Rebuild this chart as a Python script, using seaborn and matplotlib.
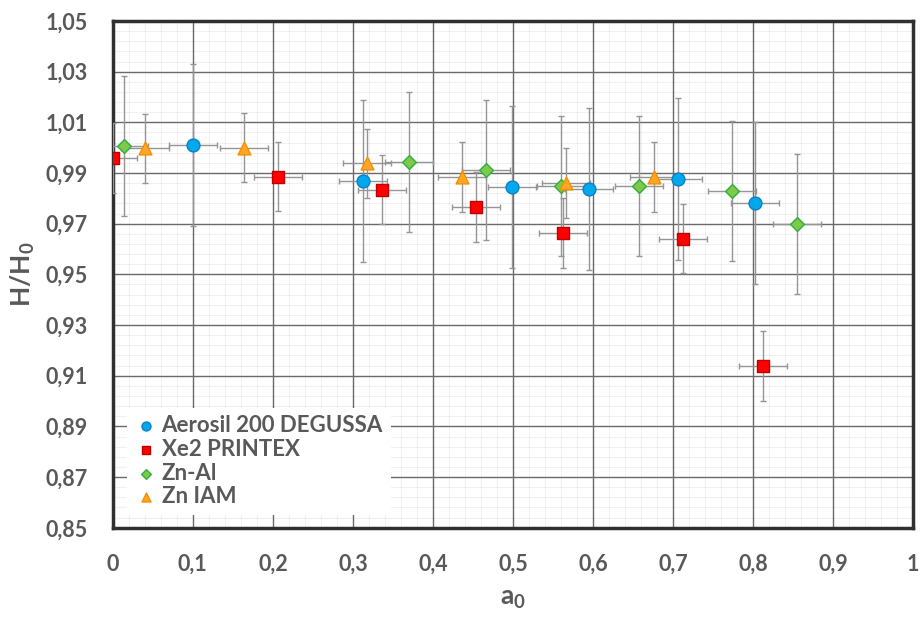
import matplotlib
matplotlib.use("Agg")
import matplotlib.pyplot as plt
from matplotlib.ticker import FixedLocator
import pandas as pd
import seaborn as sns

# values
aerosil_x = [0.100, 0.312, 0.499, 0.595, 0.706, 0.802]
aerosil_y = [1.0011, 0.9870, 0.9846, 0.9836, 0.9877, 0.9782]
aerosil_xerr = 0.03
aerosil_yerr = 0.032

printex_x = [0.000, 0.206, 0.336, 0.454, 0.562, 0.712, 0.812]
printex_y = [0.9960, 0.9886, 0.9834, 0.9766, 0.9664, 0.9641, 0.9138]
printex_xerr = 0.03
printex_yerr = 0.0137

znal_x = [0.0137, 0.3705, 0.4663, 0.560, 0.6578, 0.7731, 0.8551]
znal_y = [1.0005, 0.9943, 0.9913, 0.9849, 0.9847, 0.9830, 0.9699]
znal_xerr = 0.03
znal_yerr = 0.0276

zniam_x = [0.0407, 0.164, 0.3173, 0.4363, 0.5658, 0.6761]
zniam_y = [0.9997, 1.0000, 0.9938, 0.9885, 0.9860, 0.9885]
zniam_xerr = 0.03
zniam_yerr = 0.0137

series_names = ["Aerosil 200 DEGUSSA", "Xe2 PRINTEX", "Zn-Al", "Zn IAM"]

x_ticks = [0, 0.1, 0.2, 0.3, 0.4, 0.5, 0.6, 0.7, 0.8, 0.9, 1.0]
x_tick_labels = ["0", "0,1", "0,2", "0,3", "0,4", "0,5", "0,6", "0,7", "0,8", "0,9", "1"]
y_ticks = [0.85, 0.87, 0.89, 0.91, 0.93, 0.95, 0.97, 0.99, 1.01, 1.03, 1.05]
y_tick_labels = ["0,85", "0,87", "0,89", "0,91", "0,93", "0,95", "0,97", "0,99", "1,01", "1,03", "1,05"]

sns.set_style("white")
plt.rcParams['font.family'] = ['Lato', 'DejaVu Sans']
plt.rcParams['font.weight'] = 'bold'
plt.rcParams['mathtext.fontset'] = 'custom'
plt.rcParams['mathtext.rm'] = 'Lato'
plt.rcParams['mathtext.bf'] = 'Lato:bold'

txt = '#595959'

series = [
    (series_names[0], aerosil_x, aerosil_y, aerosil_xerr, aerosil_yerr, 'o', '#00A8EC', '#0A80C8', 85),
    (series_names[1], printex_x, printex_y, printex_xerr, printex_yerr, 's', '#FF0000', '#C00000', 80),
    (series_names[2], znal_x, znal_y, znal_xerr, znal_yerr, 'D', '#7DC94A', '#2EAF3E', 50),
    (series_names[3], zniam_x, zniam_y, zniam_xerr, zniam_yerr, '^', '#FFA626', '#F29000', 85),
]

fig = plt.figure(figsize=(9.22, 6.17), dpi=100)
ax = fig.add_axes([0.1223, 0.1447, 0.8683, 0.8213])

for name, xs, ys, xe, ye, mk, fc, ec, sz in series:
    ax.errorbar(xs, ys, xerr=xe, yerr=ye, fmt='none', ecolor='#959595',
                elinewidth=1, capsize=2.5, capthick=1, zorder=3)

for name, xs, ys, xe, ye, mk, fc, ec, sz in series:
    df = pd.DataFrame({"a0": xs, "H": ys})
    sns.scatterplot(data=df, x="a0", y="H", marker=mk, color=fc, edgecolor=ec,
                    linewidth=1, s=sz, label=name, ax=ax, zorder=4)

ax.set_xlim(0, 1)
ax.set_ylim(0.85, 1.05)
ax.xaxis.set_major_locator(FixedLocator(x_ticks))
ax.set_xticklabels(x_tick_labels)
ax.yaxis.set_major_locator(FixedLocator(y_ticks))
ax.set_yticklabels(y_tick_labels)
# minor grid: 5 steps per major cell, skipping the major positions
ax.xaxis.set_minor_locator(FixedLocator([i * 0.02 for i in range(51) if i % 5]))
ax.yaxis.set_minor_locator(FixedLocator([0.85 + i * 0.004 for i in range(51) if i % 5]))

# translucent minor lines so they don't break the major ones where they cross
ax.grid(which='minor', color='black', alpha=0.055, linewidth=0.8)
ax.grid(which='major', color='#6a6a6a', linewidth=1.0)
ax.set_axisbelow(True)

ax.tick_params(axis='both', which='both', length=0, labelsize=15.5,
               labelcolor=txt)
ax.tick_params(axis='x', pad=19)
ax.tick_params(axis='y', pad=18)
for lab in ax.get_xticklabels() + ax.get_yticklabels():
    lab.set_fontweight('bold')

for sp in ax.spines.values():
    sp.set_visible(True)
    sp.set_color('#303030')
    sp.set_linewidth(2.5)

ax.set_xlabel(r"$\mathbf{a_0}$", fontsize=19, color=txt, labelpad=8)
ax.set_ylabel(r"$\mathbf{H/H_0}$", fontsize=19, color=txt, labelpad=6)

leg = ax.legend(loc='lower left', bbox_to_anchor=(0.004, 0.003), frameon=True,
                facecolor='white', edgecolor='none', framealpha=1, fancybox=False,
                fontsize=16, handletextpad=0.2, labelspacing=0.12,
                borderpad=0.35, handlelength=1.0, markerscale=0.7)
leg.set_zorder(5)
for t in leg.get_texts():
    t.set_color(txt)
    t.set_fontweight('bold')

fig.savefig("out.png", dpi=100)
